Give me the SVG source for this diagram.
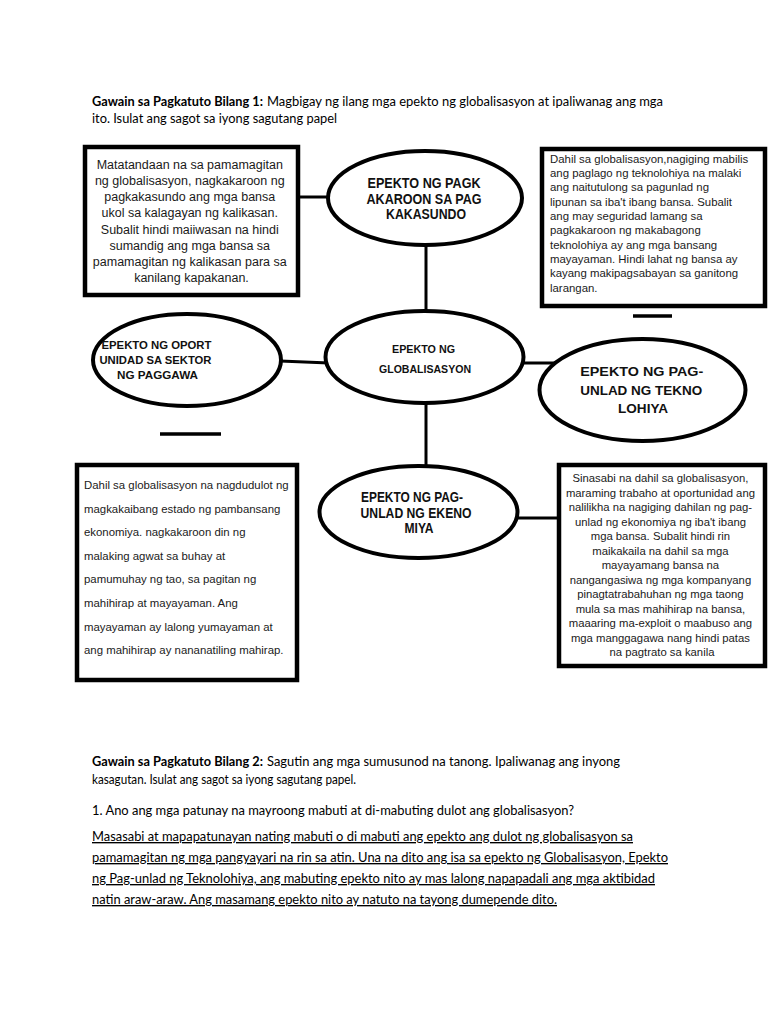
<svg xmlns="http://www.w3.org/2000/svg" width="768" height="1024" viewBox="0 0 768 1024">
<style>
.box{fill:#fff;stroke:#000;stroke-width:4.5}
.ell{fill:#fff;stroke:#000;stroke-width:4}
.conn{stroke:#000;stroke-width:3;fill:none}
.mark{stroke:#000;stroke-width:3.5}
.bt{font-family:"Liberation Sans",Arial,sans-serif;fill:#1a1a1a}
.c{text-anchor:middle}
.et{font-family:"Liberation Sans",Arial,sans-serif;font-weight:bold;fill:#111;text-anchor:middle}
.doc{font-family:Lato,"Open Sans",sans-serif;font-size:13.6px;fill:#000}
.b{font-weight:bold;font-size:12.8px}
.u{text-decoration:underline}
</style>
<rect width="768" height="1024" fill="#fff"/>

<g id="heading1" class="doc">
<text class="b" x="92" y="106" textLength="171" lengthAdjust="spacingAndGlyphs">Gawain sa Pagkatuto Bilang 1:</text>
<text x="267" y="106" textLength="396" lengthAdjust="spacingAndGlyphs">Magbigay ng ilang mga epekto ng globalisasyon at ipaliwanag ang mga</text>
<text x="92" y="123" textLength="245" lengthAdjust="spacingAndGlyphs">ito. Isulat ang sagot sa iyong sagutang papel</text>
</g>

<g id="connectors">
<line class="conn" x1="298" y1="197" x2="330" y2="197"/>
<line class="conn" x1="426" y1="244" x2="426" y2="313"/>
<line class="conn" x1="280" y1="361" x2="329" y2="363"/>
<line class="conn" x1="522" y1="363" x2="556" y2="363"/>
<line class="conn" x1="426" y1="402" x2="426" y2="467"/>
<line class="conn" x1="516" y1="518" x2="559" y2="518"/>
</g>

<g id="marks">
<line class="mark" x1="633" y1="316" x2="672" y2="316"/>
<line class="mark" x1="160" y1="434" x2="221" y2="434"/>
</g>

<g id="box-kasunduan">
<rect class="box" x="85" y="147" width="213" height="148"/>
<text class="bt c" font-size="12.5">
<tspan x="191.5" y="169.3">Matatandaan na sa pamamagitan</tspan>
<tspan x="191.5" y="185.3">ng globalisasyon, nagkakaroon ng</tspan>
<tspan x="191.5" y="201.4">pagkakasundo ang mga bansa</tspan>
<tspan x="191.5" y="217.4">ukol sa kalagayan ng kalikasan.</tspan>
<tspan x="191.5" y="233.5">Subalit hindi maiiwasan na hindi</tspan>
<tspan x="191.5" y="249.5">sumandig ang mga bansa sa</tspan>
<tspan x="191.5" y="265.6">pamamagitan ng kalikasan para sa</tspan>
<tspan x="191.5" y="281.7">kanilang kapakanan.</tspan>
</text>
</g>

<g id="node-kasunduan">
<ellipse class="ell" cx="425" cy="198" rx="97" ry="47"/>
<text class="et" font-size="14">
<tspan x="426" y="188" textLength="113" lengthAdjust="spacingAndGlyphs">EPEKTO NG PAGK</tspan>
<tspan x="426" y="203.5" textLength="115" lengthAdjust="spacingAndGlyphs">AKAROON SA PAG</tspan>
<tspan x="426" y="219" textLength="80" lengthAdjust="spacingAndGlyphs">KAKASUNDO</tspan>
</text>
</g>

<g id="box-teknolohiya">
<rect class="box" x="542" y="149" width="223" height="157"/>
<text class="bt" font-size="11.4">
<tspan x="550" y="162.7">Dahil sa globalisasyon,nagiging mabilis</tspan>
<tspan x="550" y="177">ang paglago ng teknolohiya na malaki</tspan>
<tspan x="550" y="191.4">ang naitutulong sa pagunlad ng</tspan>
<tspan x="550" y="205.7">lipunan sa iba't ibang bansa. Subalit</tspan>
<tspan x="550" y="220">ang may seguridad lamang sa</tspan>
<tspan x="550" y="234.4">pagkakaroon ng makabagong</tspan>
<tspan x="550" y="248.7">teknolohiya ay ang mga bansang</tspan>
<tspan x="550" y="263">mayayaman. Hindi lahat ng bansa ay</tspan>
<tspan x="550" y="277.4">kayang makipagsabayan sa ganitong</tspan>
<tspan x="550" y="291.7">larangan.</tspan>
</text>
</g>

<g id="node-oportunidad">
<ellipse class="ell" cx="187" cy="360" rx="94" ry="46"/>
<text class="et" font-size="11">
<tspan x="158" y="349" textLength="110" lengthAdjust="spacingAndGlyphs">EPEKTO NG OPORT</tspan>
<tspan x="157" y="364" textLength="112" lengthAdjust="spacingAndGlyphs">UNIDAD SA SEKTOR</tspan>
<tspan x="157.5" y="378.5" textLength="81" lengthAdjust="spacingAndGlyphs">NG PAGGAWA</tspan>
</text>
</g>

<g id="node-globalisasyon">
<ellipse class="ell" cx="424.5" cy="357" rx="99" ry="46"/>
<text class="et" font-size="10.5" fill="#222">
<tspan x="425" y="353" textLength="63" lengthAdjust="spacingAndGlyphs">EPEKTO NG</tspan>
<tspan x="425" y="373" textLength="92" lengthAdjust="spacingAndGlyphs">GLOBALISASYON</tspan>
</text>
</g>

<g id="node-teknolohiya">
<ellipse class="ell" cx="642.5" cy="390" rx="103" ry="51"/>
<text class="et" font-size="13">
<tspan x="643.5" y="376" textLength="123" lengthAdjust="spacingAndGlyphs">EPEKTO NG PAG-</tspan>
<tspan x="643" y="395" textLength="122" lengthAdjust="spacingAndGlyphs">UNLAD NG TEKNO</tspan>
<tspan x="643" y="413" textLength="50" lengthAdjust="spacingAndGlyphs">LOHIYA</tspan>
</text>
</g>

<g id="box-agwat">
<rect class="box" x="77" y="465" width="220" height="215"/>
<text class="bt" font-size="11.4">
<tspan x="84" y="489.3">Dahil sa globalisasyon na nagdudulot ng</tspan>
<tspan x="84" y="512.8">magkakaibang estado ng pambansang</tspan>
<tspan x="84" y="536.4">ekonomiya. nagkakaroon din ng</tspan>
<tspan x="84" y="559.9">malaking agwat sa buhay at</tspan>
<tspan x="84" y="583.4">pamumuhay ng tao, sa pagitan ng</tspan>
<tspan x="84" y="606.9">mahihirap at mayayaman. Ang</tspan>
<tspan x="84" y="630.5">mayayaman ay lalong yumayaman at</tspan>
<tspan x="84" y="654">ang mahihirap ay nananatiling mahirap.</tspan>
</text>
</g>

<g id="node-ekonomiya">
<ellipse class="ell" cx="418.5" cy="512" rx="99" ry="46"/>
<text class="et" font-size="14">
<tspan x="414" y="502" textLength="102" lengthAdjust="spacingAndGlyphs">EPEKTO NG PAG-</tspan>
<tspan x="418" y="517.5" textLength="111" lengthAdjust="spacingAndGlyphs">UNLAD NG EKENO</tspan>
<tspan x="419" y="533" textLength="29" lengthAdjust="spacingAndGlyphs">MIYA</tspan>
</text>
</g>

<g id="box-ekonomiya">
<rect class="box" x="559" y="465" width="206" height="201"/>
<text class="bt c" font-size="11.3">
<tspan x="662" y="482">Sinasabi na dahil sa globalisasyon,</tspan>
<tspan x="662" y="496.5">maraming trabaho at oportunidad ang</tspan>
<tspan x="662" y="511">nalilikha na nagiging dahilan ng pag-</tspan>
<tspan x="662" y="525.5">unlad ng ekonomiya ng iba't ibang</tspan>
<tspan x="662" y="540">mga bansa. Subalit hindi rin</tspan>
<tspan x="662" y="554.5">maikakaila na dahil sa mga</tspan>
<tspan x="662" y="569">mayayamang bansa na</tspan>
<tspan x="662" y="583.5">nangangasiwa ng mga kompanyang</tspan>
<tspan x="662" y="598">pinagtatrabahuhan ng mga taong</tspan>
<tspan x="662" y="612.5">mula sa mas mahihirap na bansa,</tspan>
<tspan x="662" y="627">maaaring ma-exploit o maabuso ang</tspan>
<tspan x="662" y="641.5">mga manggagawa nang hindi patas</tspan>
<tspan x="662" y="656">na pagtrato sa kanila</tspan>
</text>
</g>

<g id="heading2" class="doc">
<text class="b" x="92" y="766" textLength="171" lengthAdjust="spacingAndGlyphs">Gawain sa Pagkatuto Bilang 2:</text>
<text x="267" y="766" textLength="353" lengthAdjust="spacingAndGlyphs">Sagutin ang mga sumusunod na tanong. Ipaliwanag ang inyong</text>
<text x="92" y="784" textLength="264" lengthAdjust="spacingAndGlyphs">kasagutan. Isulat ang sagot sa iyong sagutang papel.</text>
<text x="92" y="815" textLength="482" lengthAdjust="spacingAndGlyphs">1. Ano ang mga patunay na mayroong mabuti at di-mabuting dulot ang globalisasyon?</text>
</g>

<g id="answer" class="doc u">
<text x="92" y="841" textLength="541" lengthAdjust="spacingAndGlyphs">Masasabi at mapapatunayan nating mabuti o di mabuti ang epekto ang dulot ng globalisasyon sa </text>
<text x="92" y="862" textLength="576" lengthAdjust="spacingAndGlyphs">pamamagitan ng mga pangyayari na rin sa atin. Una na dito ang isa sa epekto ng Globalisasyon, Epekto</text>
<text x="92" y="883" textLength="563" lengthAdjust="spacingAndGlyphs">ng Pag-unlad ng Teknolohiya, ang mabuting epekto nito ay mas lalong napapadali ang mga aktibidad</text>
<text x="92" y="904" textLength="465" lengthAdjust="spacingAndGlyphs">natin araw-araw. Ang masamang epekto nito ay natuto na tayong dumepende dito.</text>
</g>
</svg>
